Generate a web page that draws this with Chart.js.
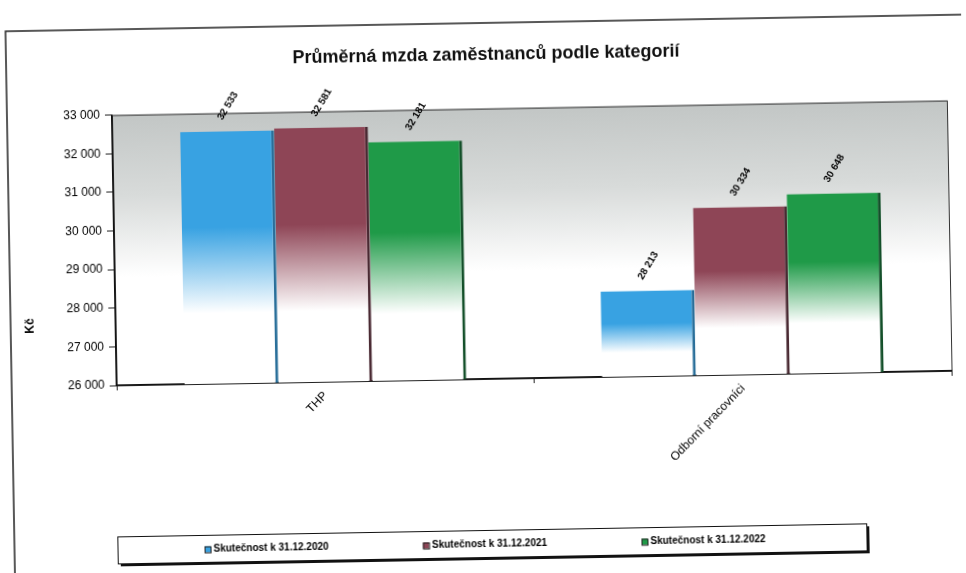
<!DOCTYPE html>
<html>
<head>
<meta charset="utf-8">
<script src="https://cdn.jsdelivr.net/npm/chart.js@4"></script>
<style>
  body { margin: 0; background: #fff; overflow: hidden; }
  #wrap { width: 966px; height: 573px; transform: rotate(-1deg); transform-origin: 50% 50%; }
</style>
</head>
<body>
<div id="wrap"><canvas id="chart" width="966" height="573"></canvas></div>
<script>
const categories = ["THP", "Odborní pracovníci"];
const seriesNames = ["Skutečnost k 31.12.2020", "Skutečnost k 31.12.2021", "Skutečnost k 31.12.2022"];
const values2020 = [32533, 28213];
const values2021 = [32581, 30334];
const values2022 = [32181, 30648];
const yMin = 26000, yMax = 33000, yStep = 1000;
const yTitle = "Kč";

const colors = ["#38a2e2", "#8e4556", "#1f9a48"];
const edgeColors = ["#2a6f9a", "#4a2a33", "#14502a"];
const FONT = "'Liberation Sans', Arial, sans-serif";

const fmt = v => String(v).replace(/\B(?=(\d{3})+(?!\d))/g, " ");

// bar fill: colour at the top, fading to white towards the base
function barFill(c, color) {
  const chart = c.chart;
  if (!chart.chartArea || c.type !== "data") return color;
  const y = chart.scales.y;
  const top = y.getPixelForValue(c.raw);
  const bottom = y.getPixelForValue(yMin);
  const g = chart.ctx.createLinearGradient(0, top, 0, bottom);
  g.addColorStop(0, color);
  g.addColorStop(0.38, color);
  g.addColorStop(0.72, "#ffffff");
  g.addColorStop(1, "#ffffff");
  return g;
}

const decor = {
  id: "decor",
  beforeDraw(chart) {
    const { ctx, chartArea: a } = chart;
    // outer frame
    ctx.save();
    ctx.strokeStyle = "#222";
    ctx.lineWidth = 1.5;
    ctx.beginPath();
    ctx.moveTo(10, 573); ctx.lineTo(10, 23); ctx.lineTo(966, 23);
    ctx.stroke();
    // plot background
    const g = ctx.createLinearGradient(0, a.top, 0, a.bottom);
    g.addColorStop(0, "#c2c6c5");
    g.addColorStop(0.3, "#d8dbda");
    g.addColorStop(0.6, "#ffffff");
    g.addColorStop(1, "#ffffff");
    ctx.fillStyle = g;
    ctx.fillRect(a.left, a.top, a.right - a.left, a.bottom - a.top);
    ctx.strokeStyle = "#333";
    ctx.lineWidth = 1;
    ctx.strokeRect(a.left + 0.5, a.top + 0.5, a.right - a.left, a.bottom - a.top);
    // axis title
    ctx.translate(30, 318);
    ctx.rotate(-Math.PI / 2);
    ctx.font = "bold 12px " + FONT;
    ctx.fillStyle = "#000";
    ctx.textAlign = "center";
    ctx.textBaseline = "middle";
    ctx.fillText(yTitle, 0, 0);
    ctx.restore();
  },
  afterDatasetsDraw(chart) {
    const { ctx } = chart;
    ctx.save();
    ctx.font = "bold 10px " + FONT;
    ctx.fillStyle = "#000";
    ctx.textAlign = "left";
    ctx.textBaseline = "middle";
    chart.data.datasets.forEach((ds, i) => {
      chart.getDatasetMeta(i).data.forEach((el, j) => {
        ctx.save();
        ctx.translate(el.x - 7, el.y - 12);
        ctx.rotate(-58 * Math.PI / 180);
        ctx.fillText(fmt(ds.data[j]), 0, 0);
        ctx.restore();
      });
    });
    ctx.restore();
  },
  afterDraw(chart) {
    const { ctx } = chart;
    // legend box with shadow
    const bx = 113, by = 530, bw = 749, bh = 27;
    ctx.save();
    ctx.fillStyle = "#111";
    ctx.fillRect(bx + 3, by + 3, bw, bh);
    ctx.fillStyle = "#fff";
    ctx.fillRect(bx, by, bw, bh);
    ctx.strokeStyle = "#111";
    ctx.lineWidth = 1;
    ctx.strokeRect(bx + 0.5, by + 0.5, bw, bh);
    ctx.font = "bold 10px " + FONT;
    ctx.textBaseline = "middle";
    ctx.textAlign = "left";
    const cy = by + bh / 2 + 1;
    chart.data.datasets.forEach((ds, i) => {
      const x = 200 + i * 218.5;
      ctx.fillStyle = colors[i];
      ctx.fillRect(x, cy - 3, 6, 6);
      ctx.strokeStyle = "#222";
      ctx.strokeRect(x + 0.5, cy - 3 + 0.5, 6, 6);
      ctx.fillStyle = "#000";
      ctx.fillText(ds.label, x + 9, cy);
    });
    ctx.restore();
  }
};

const seriesValues = [values2020, values2021, values2022];

new Chart(document.getElementById("chart"), {
  type: "bar",
  data: {
    labels: categories,
    datasets: seriesNames.map((name, i) => ({
      label: name,
      data: seriesValues[i],
      backgroundColor: c => barFill(c, colors[i]),
      borderColor: edgeColors[i],
      borderWidth: { top: 0, left: 0, bottom: 0, right: 3 },
      borderSkipped: false,
      categoryPercentage: 0.675,
      barPercentage: 1.0
    }))
  },
  options: {
    responsive: false,
    animation: false,
    devicePixelRatio: 1,
    layout: { padding: { left: 14, right: 0, top: 0, bottom: 35 } },
    plugins: {
      legend: { display: false },
      tooltip: { enabled: false },
      title: {
        display: true,
        text: "Průměrná mzda zaměstnanců podle kategorií",
        color: "#111",
        font: { family: FONT, size: 18, weight: "bold" },
        padding: { top: 44, bottom: 43 }
      }
    },
    scales: {
      x: {
        grid: { display: true, drawOnChartArea: false, offset: true, tickLength: 5, color: "#222" },
        border: { color: "#111", width: 1.5 },
        ticks: {
          color: "#000",
          maxRotation: 45, minRotation: 45,
          padding: 2,
          font: { family: FONT, size: 12 }
        },
        afterFit: s => { s.height = 159; }
      },
      y: {
        min: yMin, max: yMax,
        grid: { display: true, drawOnChartArea: false, tickLength: 7, color: "#222" },
        border: { color: "#111", width: 1.5 },
        ticks: {
          stepSize: yStep,
          color: "#000",
          padding: 5,
          font: { family: FONT, size: 12 },
          callback: v => fmt(v)
        },
        afterFit: s => { s.width = 101; }
      },
      yRight: {
        position: "right",
        display: true,
        grid: { display: false },
        border: { display: false },
        ticks: { display: false },
        afterFit: s => { s.width = 16; }
      }
    }
  },
  plugins: [decor]
});
</script>
</body>
</html>
